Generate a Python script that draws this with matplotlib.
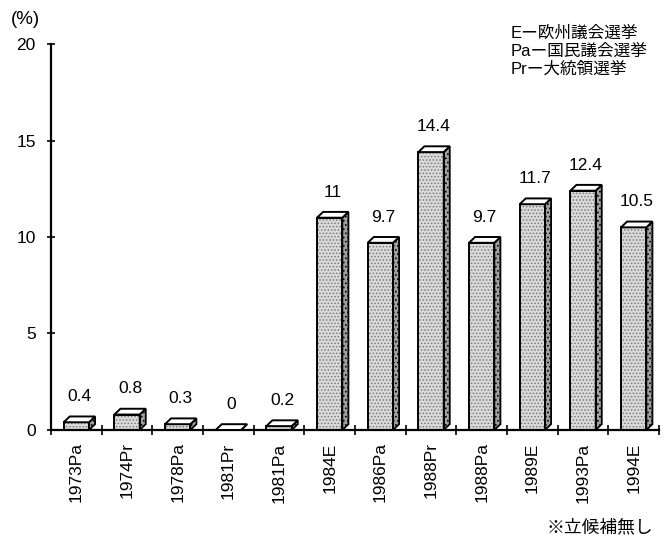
import numpy as np
import matplotlib.pyplot as plt
from matplotlib.patches import Polygon

plt.rcParams['font.family'] = ['Liberation Sans', 'Noto Sans CJK JP', 'DejaVu Sans']
plt.rcParams['hatch.linewidth'] = 0.7

labels = ['1973Pa', '1974Pr', '1978Pa', '1981Pr', '1981Pa', '1984E',
          '1986Pa', '1988Pr', '1988Pa', '1989E', '1993Pa', '1994E']
values = [0.4, 0.8, 0.3, 0, 0.2, 11, 9.7, 14.4, 9.7, 11.7, 12.4, 10.5]
value_text = ['0.4', '0.8', '0.3', '0', '0.2', '11', '9.7', '14.4', '9.7', '11.7', '12.4', '10.5']
legend_lines = ['Eー欧州議会選挙', 'Paー国民議会選挙', 'Prー大統領選挙']
note = '※立候補無し'

fig = plt.figure(figsize=(6.66, 5.37), dpi=100)
ax = fig.add_axes([0.0766, 0.1993, 0.9129, 0.7187])

x = np.arange(len(values)) + 0.5
w = 0.5
dx, dy = 0.12, 0.3   # fake depth of the 3d bars

# front faces: stippled grey
ax.bar(x, values, width=w, color='#dadada', edgecolor='#7a7a7a', hatch='.....',
       linewidth=0, zorder=2)
ax.bar(x, values, width=w, fill=False, edgecolor='black', linewidth=1.4, zorder=3)

for xi, v in zip(x, values):
    l, r = xi - w / 2, xi + w / 2
    side = Polygon([(r, 0), (r + dx, dy), (r + dx, v + dy), (r, v)],
                   closed=True, facecolor='#a0a0a0', edgecolor='black', lw=1.3,
                   hatch='....', zorder=2)
    top = Polygon([(l, v), (r, v), (r + dx, v + dy), (l + dx, v + dy)],
                  closed=True, facecolor='white', edgecolor='black', lw=1.4, zorder=3)
    ax.add_patch(side)
    ax.add_patch(top)

for xi, v, t in zip(x, values, value_text):
    ax.annotate(t, (xi + dx / 2, v), xytext=(0, 13), textcoords='offset points',
                ha='center', va='bottom', fontsize=12.5)

ax.set_xlim(0, len(values))
ax.set_ylim(0, 20)
ax.set_yticks([0, 5, 10, 15, 20])
ax.tick_params(axis='y', direction='inout', length=6, width=1.2, labelsize=12.5, pad=8)
ax.set_xticks(np.arange(len(values) + 1))
ax.set_xticklabels([])
ax.set_xticks(x, minor=True)
ax.set_xticklabels(labels, minor=True, rotation=90, fontsize=12.5)
ax.tick_params(axis='x', which='major', direction='inout', length=7, width=1.2)
ax.tick_params(axis='x', which='minor', length=0, pad=9)

ax.spines['top'].set_visible(False)
ax.spines['right'].set_visible(False)
ax.spines['left'].set_linewidth(1.6)
ax.spines['bottom'].set_linewidth(1.6)

fig.text(0.0375, 0.963, '(%)', fontsize=13.5, ha='center', va='center')
fig.text(0.766, 0.952, '\n'.join(legend_lines), fontsize=12, ha='left', va='top',
         linespacing=1.2)
fig.text(0.9805, 0.0168, note, fontsize=12.8, ha='right', va='center')

fig.savefig('out.png', dpi=100)
